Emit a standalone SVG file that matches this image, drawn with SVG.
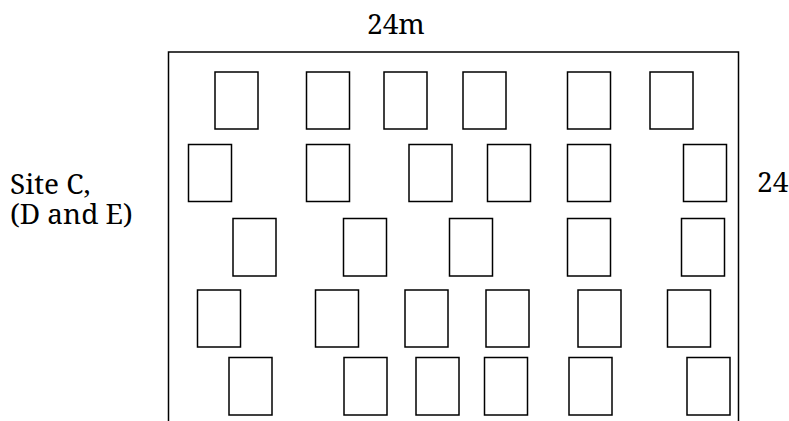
<svg xmlns="http://www.w3.org/2000/svg" width="789" height="421" viewBox="0 0 789 421">
<style>
.b{fill:#fff;stroke:#000;stroke-width:1.5}
.f{fill:none;stroke:#000;stroke-width:1.5}
</style>
<rect width="789" height="421" fill="#fff"/>
<g id="site-frame"><path class="f" d="M168.5 421 V52 H738.5 V421"/></g>
<g id="labels" font-family="'Noto Serif', 'DejaVu Serif', serif" font-size="28" fill="#000">
<text x="367" y="33.5">24m</text>
<text x="757" y="191.5">24</text>
<text x="10" y="193.5">Site C,</text>
<text x="10" y="224">(D and E)</text>
</g>
<g id="row1">
<rect class="b" x="215" y="72" width="43" height="57"/>
<rect class="b" x="306.5" y="72" width="43" height="57"/>
<rect class="b" x="384" y="72" width="43" height="57"/>
<rect class="b" x="463" y="72" width="43" height="57"/>
<rect class="b" x="567.5" y="72" width="43" height="57"/>
<rect class="b" x="650" y="72" width="43" height="57"/>
</g>
<g id="row2">
<rect class="b" x="188.5" y="144.5" width="43" height="57"/>
<rect class="b" x="306.5" y="144.5" width="43" height="57"/>
<rect class="b" x="409" y="144.5" width="43" height="57"/>
<rect class="b" x="487.5" y="144.5" width="43" height="57"/>
<rect class="b" x="567.5" y="144.5" width="43" height="57"/>
<rect class="b" x="683.5" y="144.5" width="43" height="57"/>
</g>
<g id="row3">
<rect class="b" x="233" y="218.5" width="43" height="57.5"/>
<rect class="b" x="343.5" y="218.5" width="43" height="57.5"/>
<rect class="b" x="449.5" y="218.5" width="43" height="57.5"/>
<rect class="b" x="567.5" y="218.5" width="43" height="57.5"/>
<rect class="b" x="681.5" y="218.5" width="43" height="57.5"/>
</g>
<g id="row4">
<rect class="b" x="197.5" y="290" width="43" height="57"/>
<rect class="b" x="315.5" y="290" width="43" height="57"/>
<rect class="b" x="405" y="290" width="43" height="57"/>
<rect class="b" x="486" y="290" width="43" height="57"/>
<rect class="b" x="578" y="290" width="43" height="57"/>
<rect class="b" x="667.5" y="290" width="43" height="57"/>
</g>
<g id="row5">
<rect class="b" x="229" y="357.5" width="43" height="57.5"/>
<rect class="b" x="344" y="357.5" width="43" height="57.5"/>
<rect class="b" x="416" y="357.5" width="43" height="57.5"/>
<rect class="b" x="484.5" y="357.5" width="43" height="57.5"/>
<rect class="b" x="569" y="357.5" width="43" height="57.5"/>
<rect class="b" x="687" y="357.5" width="43" height="57.5"/>
</g>
</svg>
